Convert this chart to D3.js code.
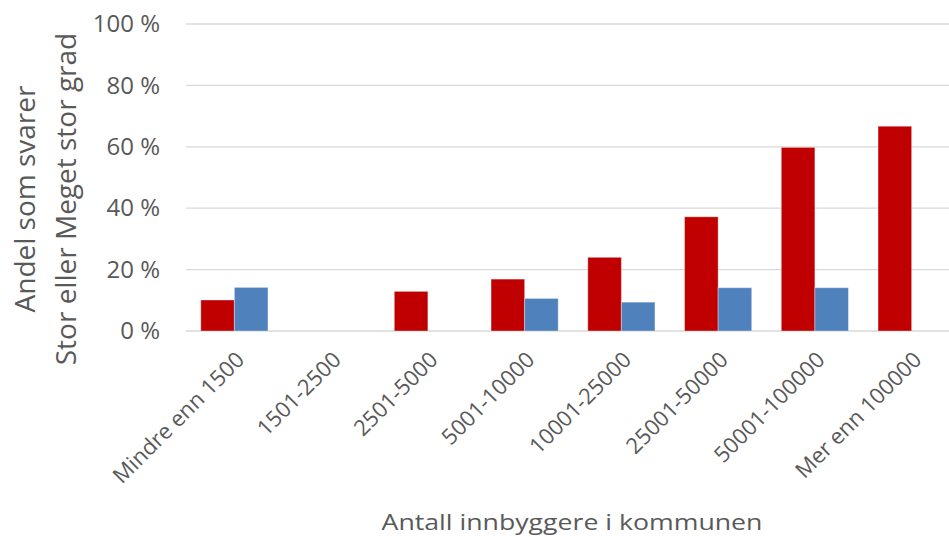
<!DOCTYPE html>
<html>
<head>
<meta charset="utf-8">
<script src="https://cdn.jsdelivr.net/npm/d3@7"></script>
<style>
  body { margin: 0; background: #fff; }
  text { font-family: "Open Sans", sans-serif; fill: #595959; }
</style>
</head>
<body>
<div id="chart"></div>
<script>
var width = 949;
var height = 537;
var textColor = '#595959';
var gridColor = '#d9d9d9';
var redColor = '#c00000';
var blueColor = '#4f81bd';

// data (percent)
var categories = ['Mindre enn 1500', '1501-2500', '2501-5000', '5001-10000',
      '10001-25000', '25001-50000', '50001-100000', 'Mer enn 100000'];
var seriesNames = ['red', 'blue'];
var redValues = [10.1, null, 12.9, 16.9, 24.0, 37.2, 59.8, 66.7];
var blueValues = [14.2, null, null, 10.6, 9.4, 14.1, 14.1, null];
var yTicks = [0, 20, 40, 60, 80, 100];
var yTitleLines = ['Andel som svarer', 'Stor eller Meget stor grad'];
var xTitle = 'Antall innbyggere i kommunen';

var svg = d3.select('#chart').append('svg')
      .attr('width', width)
      .attr('height', height)

// scales
var xScale = d3.scaleBand()
      .domain(categories)
      .range([186, 960])
      .paddingInner(0.306)
      .paddingOuter(0.153)

var xInner = d3.scaleBand()
      .domain(seriesNames)
      .range([0, xScale.bandwidth()])

var yScale = d3.scaleLinear()
      .domain([0, 100])
      .range([331, 24])

// gridlines
svg.append('g')
      .selectAll('line')
      .data(yTicks)
      .enter()
      .append('line')
            .attr('x1', 186)
            .attr('x2', width)
            .attr('y1', d => yScale(d))
            .attr('y2', d => yScale(d))
            .style('stroke', gridColor)
            .style('stroke-width', 1.3)

// y axis labels
var yAxis = d3.axisLeft(yScale)
      .tickValues(yTicks)
      .tickSize(0)
      .tickPadding(0)
      .tickFormat(d => d + ' %')

var yAxisGroup = svg.append('g')
      .attr('transform', 'translate(160, 0)')
      .call(yAxis)
yAxisGroup.select('.domain').remove()
yAxisGroup.selectAll('text')
      .style('font-family', '"Open Sans", sans-serif')
      .style('font-size', '24px')
      .style('fill', textColor)

// bars
var rows = categories.map((c, i) => ({ cat: c, red: redValues[i], blue: blueValues[i] }))
var colors = { red: redColor, blue: blueColor }

var groups = svg.append('g')
      .selectAll('g')
      .data(rows)
      .enter()
      .append('g')
            .attr('transform', d => 'translate(' + xScale(d.cat) + ', 0)')

groups.selectAll('rect')
      .data(d => seriesNames.map(s => ({ key: s, value: d[s] })).filter(v => v.value != null))
      .enter()
      .append('rect')
            .attr('x', d => xInner(d.key))
            .attr('width', xInner.bandwidth())
            .attr('y', d => yScale(d.value))
            .attr('height', d => yScale(0) - yScale(d.value))
            .style('fill', d => colors[d.key])
            .style('stroke', '#ffffff')
            .style('stroke-opacity', 0.35)
            .style('stroke-width', 1)

// category labels, rotated
var xAxis = d3.axisBottom(xScale)
      .tickSize(0)
      .tickPadding(0)

var xAxisGroup = svg.append('g')
      .attr('transform', 'translate(0, 350)')
      .call(xAxis)
xAxisGroup.select('.domain').remove()
xAxisGroup.selectAll('text')
      .attr('transform', 'rotate(-45)')
      .attr('y', 0)
      .attr('dy', '0.72em')
      .style('text-anchor', 'end')
      .style('font-family', '"Open Sans", sans-serif')
      .style('font-size', '22px')
      .style('fill', textColor)

// axis titles
svg.append('text')
      .attr('transform', 'translate(572, 530) scale(1.27, 1)')
      .style('text-anchor', 'middle')
      .style('font-size', '21px')
      .text(xTitle)

var yTitle = svg.append('text')
      .attr('transform', 'rotate(-90)')
      .style('text-anchor', 'middle')
      .style('font-size', '28px')
yTitle.append('tspan')
      .attr('x', -199)
      .attr('y', 35)
      .text(yTitleLines[0])
yTitle.append('tspan')
      .attr('x', -199)
      .attr('y', 76)
      .text(yTitleLines[1])
</script>
</body>
</html>
